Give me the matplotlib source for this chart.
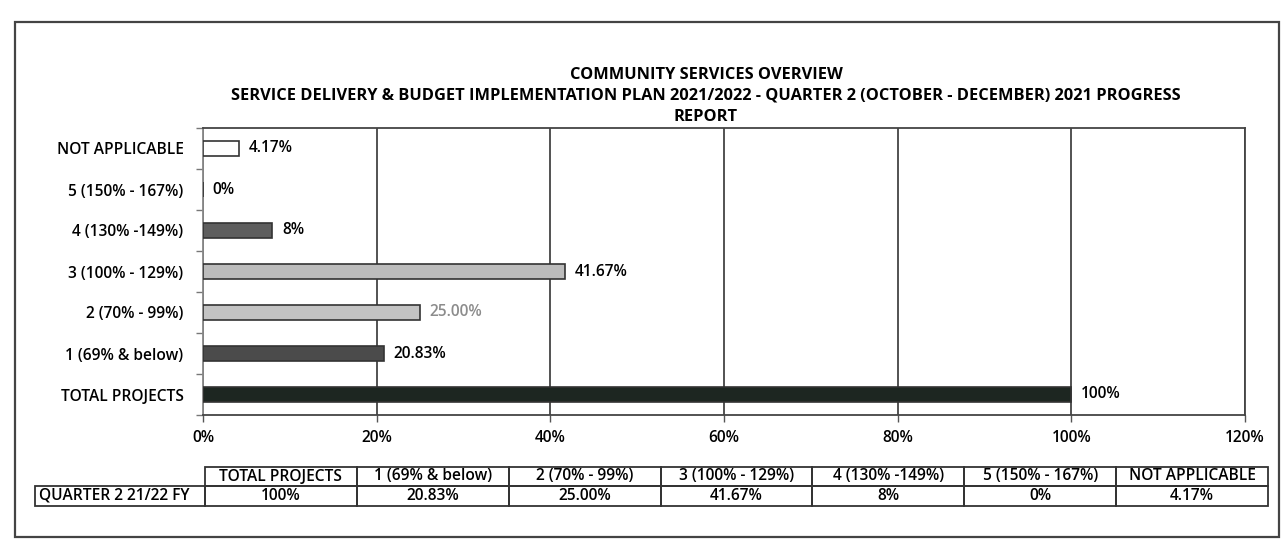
import numpy as np
import matplotlib
matplotlib.use("Agg")
from matplotlib import pyplot as plt
from matplotlib.patches import Rectangle

plt.rcParams['font.family'] = ['Open Sans', 'DejaVu Sans']

# bar categories, bottom to top
categories = ["TOTAL PROJECTS", "1 (69% & below)", "2 (70% - 99%)", "3 (100% - 129%)",
              "4 (130% -149%)", "5 (150% - 167%)", "NOT APPLICABLE"]
values = [100, 20.83, 25.00, 41.67, 8, 0, 4.17]
value_labels = ["100%", "20.83%", "25.00%", "41.67%", "8%", "0%", "4.17%"]
bar_colors = ["#1d2621", "#4b4b4b", "#c3c3c3", "#bcbcbc", "#5e5e5e", "#ffffff", "#ffffff"]
label_colors = ["black", "black", "#8c8c8c", "black", "black", "black", "black"]

x_ticks = [0, 20, 40, 60, 80, 100, 120]

# data table underneath, in left-to-right order
table_header = ["TOTAL PROJECTS", "1 (69% & below)", "2 (70% - 99%)", "3 (100% - 129%)",
                "4 (130% -149%)", "5 (150% - 167%)", "NOT APPLICABLE"]
table_row_name = "QUARTER 2 21/22 FY"
table_values = ["100%", "20.83%", "25.00%", "41.67%", "8%", "0%", "4.17%"]

title_lines = ["COMMUNITY SERVICES OVERVIEW",
               "SERVICE DELIVERY & BUDGET IMPLEMENTATION PLAN 2021/2022 - QUARTER 2 (OCTOBER - DECEMBER) 2021 PROGRESS",
               "REPORT"]

W, H = 1282, 540
fig = plt.figure(figsize=(W / 100, H / 100), dpi=100)
fs = 11.2
fw = "semibold"


def fx(px):
    return px / W


def fy(py):
    return 1 - py / H


# chart area border
fig.patches.append(Rectangle((fx(15), fy(537)), fx(1279) - fx(15), fy(22) - fy(537),
                             transform=fig.transFigure, fill=False, ec="#444444", lw=1.6))

for line, py in zip(title_lines, [75, 96, 117]):
    fig.text(fx(706), fy(py), line, ha="center", va="center", fontsize=11.8, fontweight="bold")

ax = fig.add_axes([fx(203), fy(415), fx(1245) - fx(203), fy(128) - fy(415)])
y = np.arange(len(categories))
ax.barh(y, values, height=0.38, color=bar_colors, edgecolor="#333333", linewidth=1.2, zorder=3)

for yi, v, lab, c in zip(y, values, value_labels, label_colors):
    ax.annotate(lab, (v, yi), xytext=(7, 0), textcoords="offset points",
                ha="left", va="center", fontsize=fs, fontweight=fw, color=c)

ax.set_xlim(0, 120)
ax.set_ylim(-0.5, len(categories) - 0.5)
ax.set_xticks(x_ticks)
ax.set_xticklabels([f"{t}%" for t in x_ticks], fontsize=fs, fontweight=fw)
ax.tick_params(axis="x", length=5, width=1, color="#555555", pad=6)

# category labels sit between the tick marks
ax.set_yticks(np.arange(len(categories) + 1) - 0.5)
ax.set_yticklabels([])
ax.set_yticks(y, minor=True)
ax.set_yticklabels(categories, minor=True, fontsize=fs, fontweight=fw)
ax.tick_params(axis="y", which="major", length=5, width=1, color="#777777")
ax.tick_params(axis="y", which="minor", length=0, pad=14)

ax.grid(axis="x", color="#444444", linewidth=1.3, zorder=0)
for side in ["top", "right", "bottom"]:
    ax.spines[side].set_color("#444444")
    ax.spines[side].set_linewidth(1.3)
ax.spines["left"].set_color("#888888")
ax.spines["left"].set_linewidth(1.3)

# data table
t_left, t_right = 205, 1268
col_w = (t_right - t_left) / len(table_header)
r_top, r_mid, r_bot = 467, 486, 506
tkw = dict(transform=fig.transFigure, fill=False, ec="#333333", lw=1.3)
for i, (head, val) in enumerate(zip(table_header, table_values)):
    x0 = t_left + i * col_w
    fig.patches.append(Rectangle((fx(x0), fy(r_mid)), fx(col_w), fy(r_top) - fy(r_mid), **tkw))
    fig.patches.append(Rectangle((fx(x0), fy(r_bot)), fx(col_w), fy(r_mid) - fy(r_bot), **tkw))
    cx = x0 + col_w / 2
    fig.text(fx(cx), fy((r_top + r_mid) / 2), head, ha="center", va="center", fontsize=fs, fontweight=fw)
    fig.text(fx(cx), fy((r_mid + r_bot) / 2), val, ha="center", va="center", fontsize=fs, fontweight=fw)

fig.patches.append(Rectangle((fx(35), fy(r_bot)), fx(t_left - 35), fy(r_mid) - fy(r_bot), **tkw))
fig.text(fx(39), fy((r_mid + r_bot) / 2), table_row_name, ha="left", va="center", fontsize=fs, fontweight=fw)

fig.savefig("out.png", dpi=100)
